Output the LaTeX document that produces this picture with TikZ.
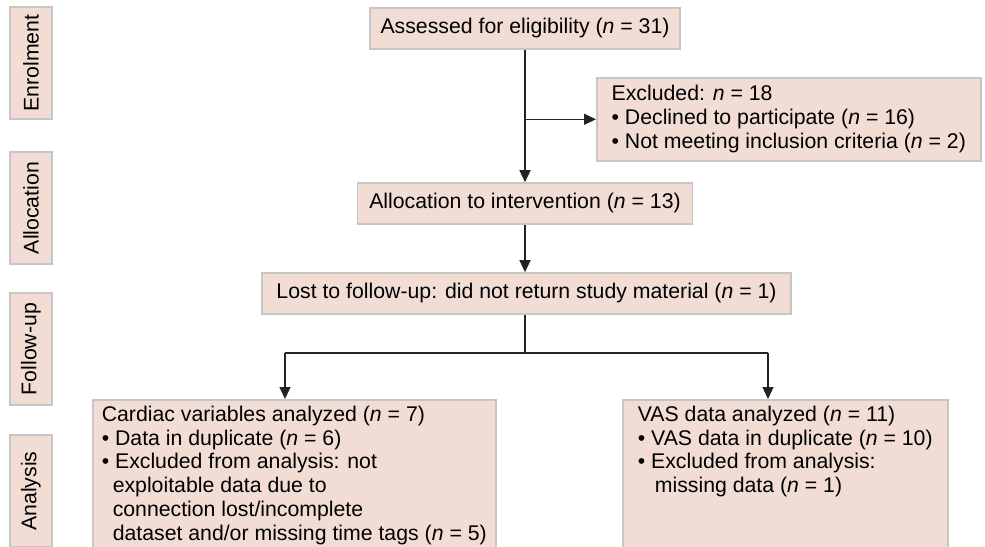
\documentclass[tikz,border=0pt]{standalone}
\usepackage{fontspec}
\setmainfont{Liberation Sans}
\usepackage{tikz}
\usetikzlibrary{arrows.meta}

\definecolor{boxfill}{RGB}{242,221,213}
\definecolor{boxline}{RGB}{198,198,198}
\definecolor{linkline}{RGB}{35,35,35}

\tikzset{
  flowbox/.style={draw=boxline, line width=0.9pt, fill=boxfill, inner xsep=0pt, inner ysep=0pt,
    font=\fontsize{12.1}{13.6}\selectfont, align=left},
  stagebox/.style={flowbox, rotate=90, minimum width=2.24cm, minimum height=0.84cm, align=center},
  onebox/.style={flowbox, minimum height=0.82cm, align=center},
  listbox/.style={flowbox, anchor=north west, inner ysep=0.12cm, text depth=2cm},
  link/.style={draw=linkline, line width=0.75pt},
  arrow/.style={link, -{Triangle[length=0.24cm, width=0.22cm]}}
}

\begin{document}
\begin{tikzpicture}[x=0.02cm, y=-0.02cm]
    \path[use as bounding box] (0,0) rectangle (985,547);
    \clip (0,0) rectangle (985,547);

    % Stage labels
    \node[stagebox] (enrol) at (31,63) {Enrolment};
    \node[stagebox] (alloclab) at (31,208) {Allocation};
    \node[stagebox] (followlab) at (31,349) {Follow-up};
    \node[stagebox] (analysislab) at (31,491) {Analysis};

    % Main column
    \node[onebox, minimum width=6.2cm] (assess) at (525,28.5) {Assessed for eligibility (\textit{n} = 31)};
    \node[flowbox, anchor=north west, minimum width=7.68cm, minimum height=1.66cm] (excl) at (596,77)
        {Excluded: \textit{n} = 18\\
         • Declined to participate (\textit{n} = 16)\\
         • Not meeting inclusion criteria (\textit{n} = 2)};
    \node[onebox, minimum width=6.7cm] (alloc) at (525,203.5) {Allocation to intervention (\textit{n} = 13)};
    \node[onebox, minimum width=10.58cm] (lost) at (526.5,293.5) {Lost to follow-up: did not return study material (\textit{n} = 1)};

    % Analysis boxes
    \node[listbox, minimum width=8.06cm] (cardiac) at (92,399)
        {Cardiac variables analyzed (\textit{n} = 7)\\
         • Data in duplicate (\textit{n} = 6)\\
         • Excluded from analysis: not\\
         \hspace*{0.22cm}exploitable data due to\\
         \hspace*{0.22cm}connection lost/incomplete\\
         \hspace*{0.22cm}dataset and/or missing time tags (\textit{n} = 5)};
    \node[listbox, minimum width=6.5cm] (vas) at (622,399)
        {VAS data analyzed (\textit{n} = 11)\\
         • VAS data in duplicate (\textit{n} = 10)\\
         • Excluded from analysis:\\
         \hspace*{0.34cm}missing data (\textit{n} = 1)};

    % Connectors
    \draw[arrow] (assess.south) -- (alloc.north);
    \draw[arrow] (assess.south |- excl.west) -- (excl.west);
    \draw[arrow] (alloc.south) -- (alloc.south |- lost.north);

    \coordinate (fork) at (525,353);
    \coordinate (forkL) at (285,353);
    \coordinate (forkR) at (768,353);
    \draw[link] (fork |- lost.south) -- (fork);
    \draw[link] (forkL) -- (forkR);
    \draw[arrow] (forkL) -- (forkL |- cardiac.north);
    \draw[arrow] (forkR) -- (forkR |- vas.north);
\end{tikzpicture}
\end{document}
